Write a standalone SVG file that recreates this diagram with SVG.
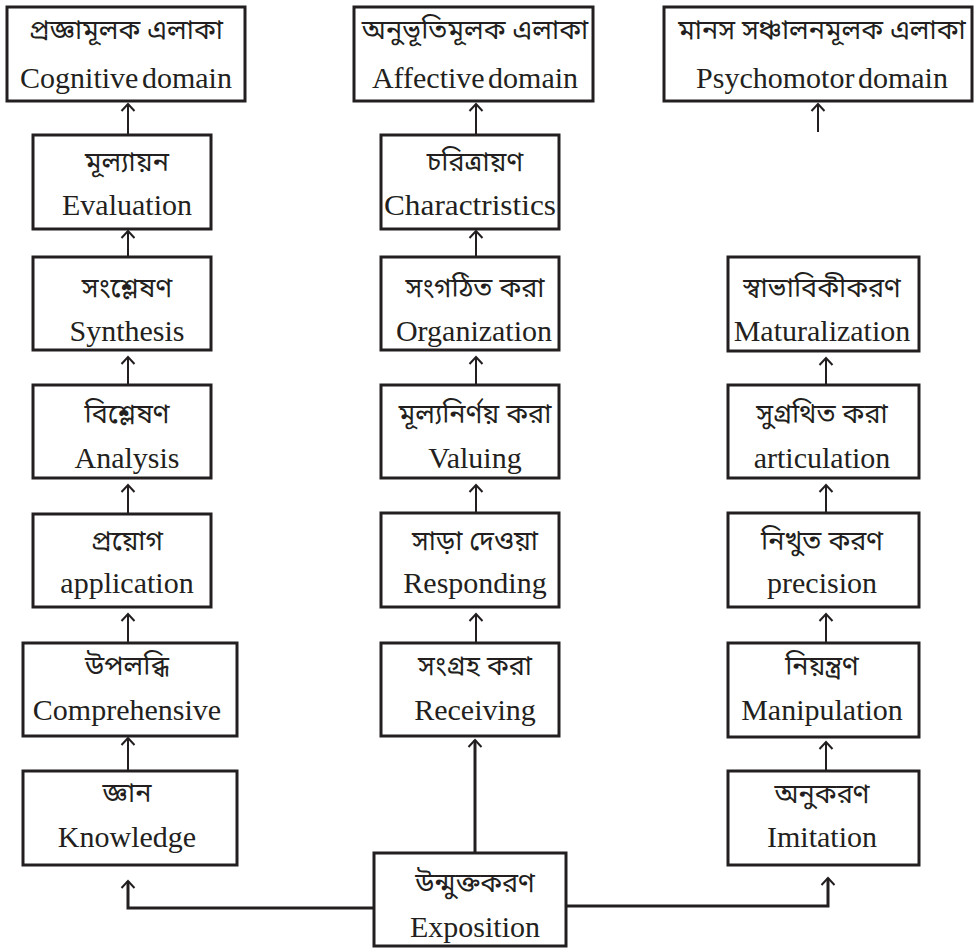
<svg xmlns="http://www.w3.org/2000/svg" width="975" height="948" viewBox="0 0 975 948">
<style>
.box{fill:#fff;stroke:#231f20;stroke-width:3}
.en{font-family:"Liberation Serif","Times New Roman",serif;font-size:30px;fill:#231f20;text-anchor:middle}
.bn{font-family:"Noto Sans Bengali","Noto Serif Bengali","Lohit Bengali","Noto Sans",sans-serif;font-size:27px;fill:#231f20;text-anchor:middle}
.ln{fill:none;stroke:#231f20;stroke-width:2}
.lk{fill:none;stroke:#231f20;stroke-width:3}
</style>
<defs>
<marker id="ah" markerWidth="16" markerHeight="16" refX="9" refY="8" orient="auto" markerUnits="userSpaceOnUse" viewBox="0 0 16 16">
<path d="M2,1.5 L9,8 L2,14.5" fill="none" stroke="#231f20" stroke-width="2"/>
</marker>
</defs>
<rect width="975" height="948" fill="#fff"/>

<g id="cognitive"><rect class="box" x="7" y="7" width="238" height="94"/><text class="bn" x="126" y="39">প্রজ্ঞামূলক এলাকা</text><text class="en" x="126" y="88" word-spacing="-4">Cognitive domain</text></g>
<g id="affective"><rect class="box" x="354" y="7" width="239" height="94"/><text class="bn" x="475" y="39">অনুভূতিমূলক এলাকা</text><text class="en" x="475" y="88" word-spacing="-4">Affective domain</text></g>
<g id="psychomotor"><rect class="box" x="664" y="7" width="308" height="94"/><text class="bn" x="822" y="39">মানস সঞ্চালনমূলক এলাকা</text><text class="en" x="822" y="88" word-spacing="-4">Psychomotor domain</text></g>

<g id="evaluation"><rect class="box" x="33" y="135" width="178" height="94"/><text class="bn" x="127" y="171">মূল্যায়ন</text><text class="en" x="127" y="215">Evaluation</text></g>
<g id="characteristics"><rect class="box" x="381" y="135" width="178" height="94"/><text class="bn" x="475" y="171">চরিত্রায়ণ</text><text class="en" x="470" y="215" textLength="172" lengthAdjust="spacingAndGlyphs">Charactristics</text></g>

<g id="synthesis"><rect class="box" x="33" y="257" width="178" height="93"/><text class="bn" x="127" y="297">সংশ্লেষণ</text><text class="en" x="127" y="341">Synthesis</text></g>
<g id="organization"><rect class="box" x="381" y="257" width="178" height="93"/><text class="bn" x="475" y="297">সংগঠিত করা</text><text class="en" x="474" y="341">Organization</text></g>
<g id="maturalization"><rect class="box" x="728" y="257" width="191" height="94"/><text class="bn" x="822" y="297">স্বাভাবিকীকরণ</text><text class="en" x="822" y="341">Maturalization</text></g>

<g id="analysis"><rect class="box" x="33" y="385" width="178" height="93"/><text class="bn" x="127" y="423">বিশ্লেষণ</text><text class="en" x="127" y="468">Analysis</text></g>
<g id="valuing"><rect class="box" x="381" y="385" width="178" height="93"/><text class="bn" x="475" y="423">মূল্যনির্ণয় করা</text><text class="en" x="475" y="468">Valuing</text></g>
<g id="articulation"><rect class="box" x="728" y="385" width="191" height="93"/><text class="bn" x="822" y="423">সুগ্রথিত করা</text><text class="en" x="822" y="468">articulation</text></g>

<g id="application"><rect class="box" x="33" y="514" width="178" height="93"/><text class="bn" x="127" y="550">প্রয়োগ</text><text class="en" x="127" y="593">application</text></g>
<g id="responding"><rect class="box" x="381" y="513" width="178" height="94"/><text class="bn" x="475" y="550">সাড়া দেওয়া</text><text class="en" x="475" y="593">Responding</text></g>
<g id="precision"><rect class="box" x="728" y="513" width="191" height="94"/><text class="bn" x="822" y="550">নিখুত করণ</text><text class="en" x="822" y="593">precision</text></g>

<g id="comprehensive"><rect class="box" x="23" y="643" width="214" height="93"/><text class="bn" x="127" y="675">উপলব্ধি</text><text class="en" x="127" y="720">Comprehensive</text></g>
<g id="receiving"><rect class="box" x="381" y="643" width="178" height="93"/><text class="bn" x="475" y="675">সংগ্রহ করা</text><text class="en" x="475" y="720">Receiving</text></g>
<g id="manipulation"><rect class="box" x="728" y="643" width="191" height="94"/><text class="bn" x="822" y="675">নিয়ন্ত্রণ</text><text class="en" x="822" y="720">Manipulation</text></g>

<g id="knowledge"><rect class="box" x="23" y="771" width="214" height="94"/><text class="bn" x="127" y="802">জ্ঞান</text><text class="en" x="127" y="847">Knowledge</text></g>
<g id="imitation"><rect class="box" x="728" y="771" width="191" height="94"/><text class="bn" x="822" y="803">অনুকরণ</text><text class="en" x="822" y="847">Imitation</text></g>

<g id="exposition"><rect class="box" x="374" y="853" width="192" height="93"/><text class="bn" x="475" y="892">উন্মুক্তকরণ</text><text class="en" x="475" y="937">Exposition</text></g>

<g id="connectors">
<line class="ln" x1="128" y1="135" x2="128" y2="104" marker-end="url(#ah)"/>
<line class="ln" x1="128" y1="257" x2="128" y2="231" marker-end="url(#ah)"/>
<line class="ln" x1="128" y1="385" x2="128" y2="357" marker-end="url(#ah)"/>
<line class="ln" x1="128" y1="514" x2="128" y2="485" marker-end="url(#ah)"/>
<line class="ln" x1="128" y1="643" x2="128" y2="614" marker-end="url(#ah)"/>
<line class="ln" x1="128" y1="771" x2="128" y2="738" marker-end="url(#ah)"/>

<line class="ln" x1="476" y1="135" x2="476" y2="104" marker-end="url(#ah)"/>
<line class="ln" x1="476" y1="257" x2="476" y2="231" marker-end="url(#ah)"/>
<line class="ln" x1="476" y1="385" x2="476" y2="357" marker-end="url(#ah)"/>
<line class="ln" x1="476" y1="513" x2="476" y2="485" marker-end="url(#ah)"/>
<line class="ln" x1="476" y1="643" x2="476" y2="614" marker-end="url(#ah)"/>
<line class="lk" x1="475" y1="853" x2="475" y2="740" marker-end="url(#ah)"/>

<line class="ln" x1="818" y1="132" x2="818" y2="104" marker-end="url(#ah)"/>
<line class="ln" x1="826" y1="385" x2="826" y2="358" marker-end="url(#ah)"/>
<line class="ln" x1="826" y1="513" x2="826" y2="485" marker-end="url(#ah)"/>
<line class="ln" x1="826" y1="643" x2="826" y2="614" marker-end="url(#ah)"/>
<line class="ln" x1="826" y1="771" x2="826" y2="742" marker-end="url(#ah)"/>

<polyline class="lk" points="374,908 128,908 128,881" marker-end="url(#ah)"/>
<polyline class="lk" points="566,906 828,906 828,878" marker-end="url(#ah)"/>
</g>
</svg>
